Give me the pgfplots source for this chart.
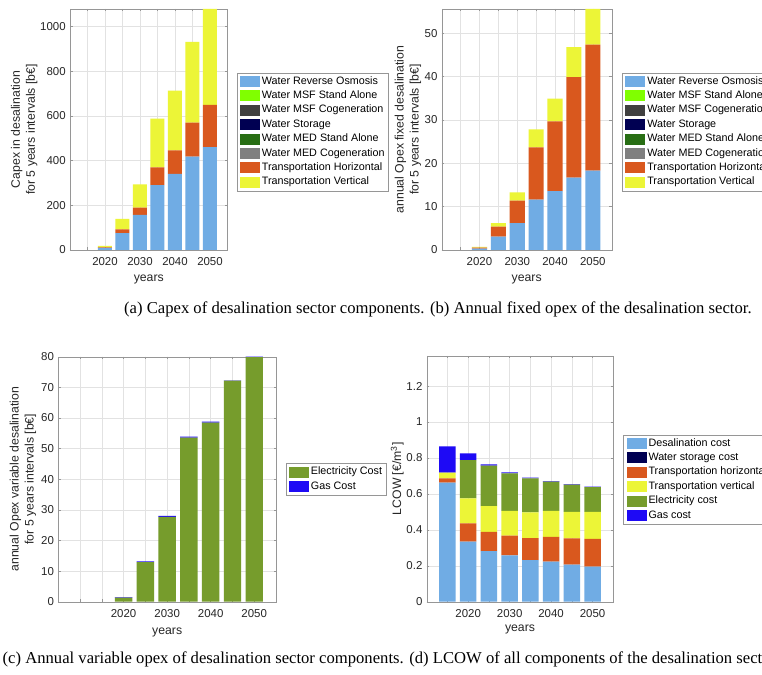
\documentclass[border=0pt]{standalone}
\usepackage{pgfplots}
\pgfplotsset{compat=1.18}
\usepackage{fontspec}
\setmainfont{Liberation Sans}
\newfontfamily\capfont{Liberation Serif}
\definecolor{cRO}{RGB}{112,172,228}
\definecolor{cMSFs}{RGB}{128,255,0}
\definecolor{cMSFc}{RGB}{64,64,64}
\definecolor{cSto}{RGB}{0,0,82}
\definecolor{cMEDs}{RGB}{40,110,20}
\definecolor{cMEDc}{RGB}{128,128,128}
\definecolor{cTH}{RGB}{217,88,30}
\definecolor{cTV}{RGB}{236,245,55}
\definecolor{cEl}{RGB}{118,156,44}
\definecolor{cGas}{RGB}{30,10,245}
\definecolor{axgray}{RGB}{150,150,150}
\definecolor{gridgray}{RGB}{226,226,226}
\definecolor{txt}{RGB}{38,38,38}
\pgfplotsset{
  mat/.style={
    scale only axis,
    ybar stacked, bar width=4,
    axis line style={draw=axgray},
    tick style={draw=axgray, thin},
    major tick length=2.5bp,
    tick align=inside,
    grid=major,
    major grid style={draw=gridgray, thin},
    xtick={2010,2015,...,2050},
    xticklabels={,,2020,,2030,,2040,,2050},
    scaled ticks=false,
    ticklabel style={font=\fontsize{11.5}{13}\selectfont, text=txt},
    /pgf/number format/assume math mode=true,
    /pgf/number format/1000 sep={},
    xticklabel style={yshift=-4.3bp},
    yticklabel style={xshift=-0.8bp},
    label style={font=\fontsize{12.3}{15}\selectfont, text=txt},
    ylabel style={align=center, anchor=center},
    xlabel style={anchor=center},
    legend cell align=left,
    legend style={draw=axgray, fill=white, font=\fontsize{10.8}{12}\selectfont, text=black,
      inner xsep=3bp, inner ysep=2.3bp, row sep=1.8bp, anchor=north west,
      nodes={inner sep=1bp, text height=8bp, text depth=2.6bp},
      /tikz/every odd column/.append style={column sep=1bp}},
  },
  lg/.style={fill=#1, draw=none, legend image code/.code={\fill[#1] (0bp,-5.5bp) rectangle (20bp,5.5bp);}},
}
\begin{document}
\begin{tikzpicture}
\path[use as bounding box] (0bp,0bp) rectangle (762bp,675bp);
\fill[white] (0bp,0bp) rectangle (762bp,675bp);
\clip (0bp,0bp) rectangle (762bp,675bp);

% (a) Capex
\begin{axis}[mat, at={(70bp,425bp)}, anchor=south west, width=157.5bp, height=241bp,
  xmin=2010, xmax=2055, ymin=0, ymax=1078, ytick={0,200,400,600,800,1000},
  ylabel={Capex in desalination\\for 5 years intervals [b€]},
  ylabel style={at={(axis description cs:-0.291,0.5)}},
  xlabel={years}, xlabel style={at={(axis description cs:0.5,-0.124)}},
  legend style={at={(1.058,0.736)}}]
\addplot[lg=cRO] coordinates {(2015,0) (2020,9) (2025,75) (2030,157) (2035,290) (2040,340) (2045,418) (2050,460)};
\addplot[lg=cMSFs] coordinates {(2015,0) (2020,0) (2025,0) (2030,0) (2035,0) (2040,0) (2045,0) (2050,0)};
\addplot[lg=cMSFc] coordinates {(2015,0) (2020,0) (2025,0) (2030,0) (2035,0) (2040,0) (2045,0) (2050,0)};
\addplot[lg=cSto] coordinates {(2015,0) (2020,0) (2025,0) (2030,0) (2035,0) (2040,0) (2045,0) (2050,0)};
\addplot[lg=cMEDs] coordinates {(2015,0) (2020,0) (2025,0) (2030,0) (2035,0) (2040,0) (2045,0) (2050,0)};
\addplot[lg=cMEDc] coordinates {(2015,0) (2020,0) (2025,0) (2030,0) (2035,0) (2040,0) (2045,0) (2050,0)};
\addplot[lg=cTH] coordinates {(2015,0) (2020,3) (2025,17.5) (2030,33) (2035,79) (2040,106) (2045,152) (2050,189)};
\addplot[lg=cTV] coordinates {(2015,0) (2020,6) (2025,46.5) (2030,104) (2035,219) (2040,267) (2045,361) (2050,429)};
\legend{Water Reverse Osmosis,Water MSF Stand Alone,Water MSF Cogeneration,Water Storage,Water MED Stand Alone,Water MED Cogeneration,Transportation Horizontal,Transportation Vertical}
\end{axis}

% (b) fixed opex
\begin{axis}[mat, at={(441.7bp,425bp)}, anchor=south west, width=170bp, height=241bp,
  xmin=2010, xmax=2055, ymin=0, ymax=55.6, ytick={0,10,20,30,40,50},
  ylabel={annual Opex fixed desalination\\for 5 years intervals [b€]},
  ylabel style={at={(axis description cs:-0.199,0.5)}},
  xlabel={years}, xlabel style={at={(axis description cs:0.5,-0.124)}},
  legend style={at={(1.061,0.736)}}]
\addplot[lg=cRO] coordinates {(2015,0) (2020,0.3) (2025,3.1) (2030,6.2) (2035,11.6) (2040,13.6) (2045,16.7) (2050,18.3)};
\addplot[lg=cMSFs] coordinates {(2015,0) (2020,0) (2025,0) (2030,0) (2035,0) (2040,0) (2045,0) (2050,0)};
\addplot[lg=cMSFc] coordinates {(2015,0) (2020,0) (2025,0) (2030,0) (2035,0) (2040,0) (2045,0) (2050,0)};
\addplot[lg=cSto] coordinates {(2015,0) (2020,0) (2025,0) (2030,0) (2035,0) (2040,0) (2045,0) (2050,0)};
\addplot[lg=cMEDs] coordinates {(2015,0) (2020,0) (2025,0) (2030,0) (2035,0) (2040,0) (2045,0) (2050,0)};
\addplot[lg=cMEDc] coordinates {(2015,0) (2020,0) (2025,0) (2030,0) (2035,0) (2040,0) (2045,0) (2050,0)};
\addplot[lg=cTH] coordinates {(2015,0) (2020,0.25) (2025,2.3) (2030,5.2) (2035,12.1) (2040,16.1) (2045,23.2) (2050,29.1)};
\addplot[lg=cTV] coordinates {(2015,0) (2020,0.15) (2025,0.8) (2030,1.9) (2035,4.1) (2040,5.2) (2045,6.9) (2050,8.2)};
\legend{Water Reverse Osmosis,Water MSF Stand Alone,Water MSF Cogeneration,Water Storage,Water MED Stand Alone,Water MED Cogeneration,Transportation Horizontal,Transportation Vertical}
\end{axis}

% (c) variable opex
\begin{axis}[mat, at={(58.3bp,73.3bp)}, anchor=south west, width=217.7bp, height=245bp,
  xmin=2005, xmax=2055, ymin=0, ymax=80, ytick={0,10,20,30,40,50,60,70,80},
  ylabel={annual Opex variable desalination\\for 5 years intervals [b€]},
  ylabel style={at={(axis description cs:-0.1626,0.5)}},
  xlabel={years}, xlabel style={at={(axis description cs:0.5,-0.124)}},
  legend style={at={(1.0446,0.565)}}]
\addplot[lg=cEl] coordinates {(2015,0) (2020,1.3) (2025,12.9) (2030,27.7) (2035,53.6) (2040,58.5) (2045,72.2) (2050,79.9)};
\addplot[lg=cGas] coordinates {(2015,0) (2020,0.2) (2025,0.3) (2030,0.35) (2035,0.3) (2040,0.3) (2045,0.1) (2050,0.1)};
\legend{Electricity Cost,Gas Cost}
\end{axis}

% (d) LCOW
\begin{axis}[mat, at={(426.7bp,73.3bp)}, anchor=south west, width=186.6bp, height=245.7bp,
  xmin=2010, xmax=2055, ymin=0, ymax=1.367, ytick={0,0.2,0.4,0.6,0.8,1,1.2},
  ylabel={LCOW [€/m\textsuperscript{3}]},
  ylabel style={at={(axis description cs:-0.1576,0.5)}},
  xlabel={years}, xlabel style={at={(axis description cs:0.5,-0.115)}},
  legend style={at={(1.0536,0.68)}}]
\addplot[lg=cRO] coordinates {(2015,0.662) (2020,0.334) (2025,0.282) (2030,0.258) (2035,0.232) (2040,0.223) (2045,0.206) (2050,0.195)};
\addplot[lg=cSto] coordinates {(2015,0) (2020,0) (2025,0) (2030,0) (2035,0) (2040,0) (2045,0) (2050,0)};
\addplot[lg=cTH] coordinates {(2015,0.024) (2020,0.102) (2025,0.107) (2030,0.109) (2035,0.122) (2040,0.137) (2045,0.146) (2050,0.154)};
\addplot[lg=cTV] coordinates {(2015,0.032) (2020,0.139) (2025,0.143) (2030,0.139) (2035,0.143) (2040,0.146) (2045,0.148) (2050,0.151)};
\addplot[lg=cEl] coordinates {(2015,0) (2020,0.213) (2025,0.225) (2030,0.208) (2035,0.189) (2040,0.162) (2045,0.152) (2050,0.138)};
\addplot[lg=cGas] coordinates {(2015,0.146) (2020,0.037) (2025,0.007) (2030,0.006) (2035,0.004) (2040,0.003) (2045,0.002) (2050,0.002)};
\legend{Desalination cost,Water storage cost,Transportation horizontal,Transportation vertical,Electricity cost,Gas cost}
\end{axis}

\node[anchor=west, inner sep=0pt, font=\capfont\fontsize{16.7}{19}\selectfont] at (124bp,366bp)
  {(a) Capex of desalination sector components. (b) Annual fixed opex of the desalination sector.};
\node[anchor=west, inner sep=0pt, font=\capfont\fontsize{16.7}{19}\selectfont] at (2.5bp,16bp)
  {(c) Annual variable opex of desalination sector components. (d) LCOW of all components of the desalination sector.};
\end{tikzpicture}
\end{document}
